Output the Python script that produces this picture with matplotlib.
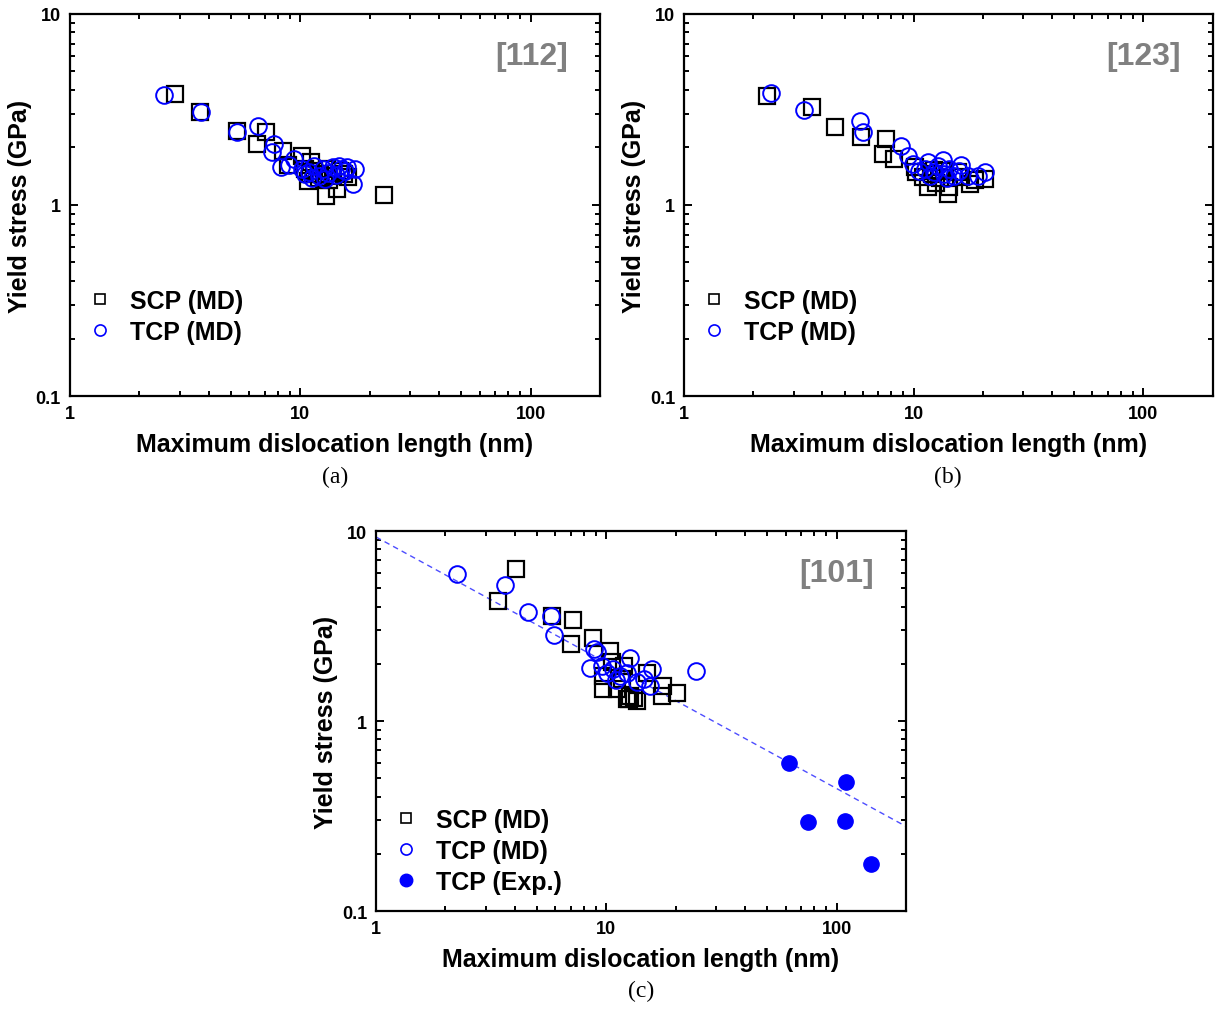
import numpy as np
import matplotlib
matplotlib.use("Agg")
import matplotlib.pyplot as plt
from matplotlib.lines import Line2D

plt.rcParams['font.family'] = ['Liberation Sans', 'DejaVu Sans']

# ---- data ----
# (a) [112]
a_scp_x = [2.87, 3.68, 5.33, 7.07, 6.51, 8.37, 10.2, 11.1, 8.81, 10.8, 14.5, 12.9, 16.1, 23.2,
           11.5, 12.2, 13.0, 13.8, 14.8, 12.0, 11.0, 15.5, 10.5, 13.3]
a_scp_y = [3.81, 3.08, 2.45, 2.41, 2.09, 1.92, 1.80, 1.68, 1.61, 1.34, 1.21, 1.12, 1.40, 1.13,
           1.50, 1.45, 1.55, 1.42, 1.50, 1.38, 1.45, 1.46, 1.55, 1.35]
a_tcp_x = [2.55, 3.71, 5.33, 6.55, 7.69, 7.54, 8.23, 9.4, 8.93, 17.2, 16.9,
           10.2, 10.9, 11.5, 12.0, 12.6, 13.2, 13.8, 14.3, 15.0, 15.7, 11.2, 12.8, 14.7, 16.0, 10.5]
a_tcp_y = [3.77, 3.06, 2.40, 2.58, 2.09, 1.89, 1.58, 1.74, 1.61, 1.54, 1.29,
           1.55, 1.48, 1.60, 1.42, 1.55, 1.47, 1.58, 1.43, 1.55, 1.50, 1.38, 1.36, 1.60, 1.58, 1.45]

# (b) [123]
b_scp_x = [2.29, 3.62, 4.53, 5.89, 7.58, 7.33, 8.24, 10.1, 10.2, 11.5, 14.1, 14.3, 17.5, 20.4,
           15.6, 12.5, 11.0, 12.0, 13.0, 13.5, 16.0, 18.5, 12.3]
b_scp_y = [3.71, 3.25, 2.55, 2.26, 2.22, 1.85, 1.74, 1.58, 1.48, 1.24, 1.14, 1.24, 1.29, 1.37,
           1.48, 1.31, 1.40, 1.45, 1.38, 1.50, 1.40, 1.35, 1.52]
b_tcp_x = [2.40, 3.33, 5.84, 6.04, 8.83, 9.43, 9.9, 13.4, 11.5, 16.1, 20.4, 19.1, 17.3,
           10.5, 11.2, 12.2, 12.8, 13.6, 14.3, 15.0, 15.8, 11.8, 14.0]
b_tcp_y = [3.86, 3.16, 2.76, 2.42, 2.04, 1.81, 1.64, 1.71, 1.67, 1.61, 1.48, 1.42, 1.42,
           1.50, 1.55, 1.48, 1.60, 1.45, 1.55, 1.42, 1.50, 1.42, 1.38]

# (c) [101]
c_scp_x = [4.06, 3.38, 5.81, 7.17, 7.0, 8.75, 10.4, 9.7, 9.7, 11.1, 12.5, 13.6, 17.5, 20.2,
           17.7, 15.0, 11.9, 10.6, 12.7, 11.7, 12.3, 13.2]
c_scp_y = [6.31, 4.30, 3.56, 3.41, 2.54, 2.72, 2.34, 1.73, 1.47, 1.47, 1.31, 1.28, 1.36, 1.40,
           1.53, 1.80, 1.95, 2.04, 1.36, 1.66, 1.30, 1.32]
c_tcp_x = [2.24, 3.64, 4.59, 5.74, 5.94, 8.8, 8.52, 12.7, 15.8, 24.4, 15.5, 14.5, 10.1, 10.7,
           11.5, 12.3, 9.1, 13.6, 11.0, 9.6]
c_tcp_y = [5.94, 5.2, 3.76, 3.56, 2.84, 2.39, 1.89, 2.14, 1.88, 1.84, 1.53, 1.66, 1.80, 1.88,
           1.73, 1.80, 2.30, 1.60, 1.65, 1.95]
c_exp_x = [62.1, 109.4, 75.0, 109.0, 140.6]
c_exp_y = [0.601, 0.476, 0.293, 0.299, 0.177]

# power-law fit shown in (c): y = A * x^n
fit_A = 9.3
fit_n = -0.662

BLUE = '#0000ff'


def style_axes(ax, label, caption):
    ax.set_xscale('log')
    ax.set_yscale('log')
    ax.set_xlim(1, 200)
    ax.set_ylim(0.1, 10)
    for s in ax.spines.values():
        s.set_linewidth(1.6)
    ax.tick_params(which='both', direction='in', top=True, right=True, width=1.4)
    ax.tick_params(which='major', length=6, labelsize=13, pad=6.5)
    ax.tick_params(which='minor', length=3.5)
    ax.set_xticks([1, 10, 100])
    ax.set_xticklabels(['1', '10', '100'])
    ax.set_yticks([0.1, 1, 10])
    ax.set_yticklabels(['0.1', '1', '10'])
    for t in ax.get_xticklabels() + ax.get_yticklabels():
        t.set_fontweight('bold')
    ax.set_xlabel('Maximum dislocation length (nm)', fontsize=18, fontweight='bold', labelpad=7)
    ax.set_ylabel('Yield stress (GPa)', fontsize=18, fontweight='bold', labelpad=3)
    ax.text(0.94, 0.89, label, transform=ax.transAxes, ha='right', va='center',
            fontsize=23, fontweight='bold', color='#808080')
    ax.text(0.5, -0.21, caption, transform=ax.transAxes, ha='center', va='center',
            fontsize=17, family='Liberation Serif')


def md_points(ax, sx, sy, tx, ty):
    ax.plot(sx, sy, ls='none', marker='s', ms=11, mfc='none', mec='black', mew=1.6)
    ax.plot(tx, ty, ls='none', marker='o', ms=12, mfc='none', mec=BLUE, mew=1.4)


def add_legend(ax, with_exp=False):
    handles = [Line2D([], [], ls='none', marker='s', ms=7, mfc='none', mec='black', mew=1.2),
               Line2D([], [], ls='none', marker='o', ms=8, mfc='none', mec=BLUE, mew=1.2)]
    labels = ['SCP (MD)', 'TCP (MD)']
    if with_exp:
        handles.append(Line2D([], [], ls='none', marker='o', ms=9, mfc=BLUE, mec=BLUE))
        labels.append('TCP (Exp.)')
    ax.legend(handles, labels, loc='lower left', bbox_to_anchor=(0.0, 0.005 if with_exp else 0.097),
              frameon=False, prop={'weight': 'bold', 'size': 18},
              handlelength=1.2, handletextpad=0.6, labelspacing=0.28, borderaxespad=0.2)


fig = plt.figure(figsize=(12.15, 10.12), dpi=100)

ax_a = fig.add_axes([0.0576, 0.6077, 0.4362, 0.3775])
md_points(ax_a, a_scp_x, a_scp_y, a_tcp_x, a_tcp_y)
style_axes(ax_a, '[112]', '(a)')
add_legend(ax_a)

ax_b = fig.add_axes([0.5630, 0.6077, 0.4350, 0.3775])
md_points(ax_b, b_scp_x, b_scp_y, b_tcp_x, b_tcp_y)
style_axes(ax_b, '[123]', '(b)')
add_legend(ax_b)

ax_c = fig.add_axes([0.3095, 0.0988, 0.4362, 0.3755])
fit_x = np.logspace(0, np.log10(200), 50)
ax_c.plot(fit_x, fit_A * fit_x ** fit_n, ls='--', color='#4d4dff', lw=1.0, dashes=(4, 3))
md_points(ax_c, c_scp_x, c_scp_y, c_tcp_x, c_tcp_y)
ax_c.plot(c_exp_x, c_exp_y, ls='none', marker='o', ms=11, mfc=BLUE, mec=BLUE)
style_axes(ax_c, '[101]', '(c)')
add_legend(ax_c, with_exp=True)

fig.savefig('out.png', dpi=100)
